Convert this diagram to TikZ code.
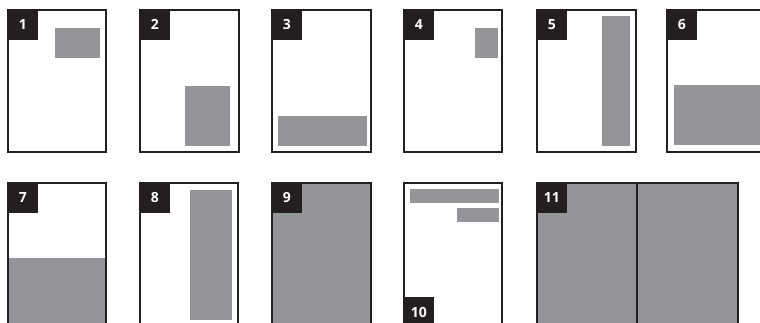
\documentclass[tikz,border=0pt]{standalone}
\usepackage{fontspec}
\setsansfont{Open Sans}
\usepackage{tikz}
\definecolor{inkdark}{HTML}{231F20}
\definecolor{blockgray}{HTML}{939598}
\tikzset{
  page/.style={draw=inkdark, line width=1.5pt},
  block/.style={fill=blockgray},
  tag/.style={fill=inkdark, text=white, inner sep=0pt, minimum size=23.25pt,
    font=\sffamily\bfseries\fontsize{10.5}{12}\selectfont}
}

\begin{document}
\begin{tikzpicture}[x=0.75pt, y=-0.75pt]
    \useasboundingbox (0,0) rectangle (760,322);
    \clip (0,0) rectangle (760,322);

    % Grey blocks, top row
    \fill[block] (55,28) rectangle (100,58);
    \fill[block] (185,86) rectangle (230,146);
    \fill[block] (278,116) rectangle (367,146);
    \fill[block] (475,28) rectangle (498,58);
    \fill[block] (602,16) rectangle (630,146);
    \fill[block] (674,85) rectangle (766,145);

    % Grey blocks, bottom row
    \fill[block] (8,258) rectangle (106,327);
    \fill[block] (190,190) rectangle (232,320);
    \fill[block] (272,183) rectangle (371,327);
    \fill[block] (410,189) rectangle (499,203);
    \fill[block] (457,208) rectangle (499,222);
    \fill[block] (537,183) rectangle (738,327);

    % Pages
    \foreach \x/\w in {8/98, 140/99, 272/99, 404/98, 537/99, 667/99}
        \draw[page] (\x,10) rectangle ++(\w,142);
    \foreach \x/\w in {8/98, 140/98, 272/99, 404/98, 537/201}
        \draw[page] (\x,183) rectangle ++(\w,144);
    \draw[page] (637,183) -- (637,327);

    % Number tags
    \node (t1) [tag, anchor=north west] at (7,9) {1};
    \node (t2) [tag, anchor=north west] at (139,9) {2};
    \node (t3) [tag, anchor=north west] at (271,9) {3};
    \node (t4) [tag, anchor=north west] at (403,9) {4};
    \node (t5) [tag, anchor=north west] at (536,9) {5};
    \node (t6) [tag, anchor=north west] at (666,9) {6};
    \node (t7) [tag, anchor=north west] at (7,182) {7};
    \node (t8) [tag, anchor=north west] at (139,182) {8};
    \node (t9) [tag, anchor=north west] at (271,182) {9};
    \node (t10) [tag, anchor=south west] at (403,328) {10};
    \node (t11) [tag, anchor=north west] at (536,182) {11};
\end{tikzpicture}
\end{document}
